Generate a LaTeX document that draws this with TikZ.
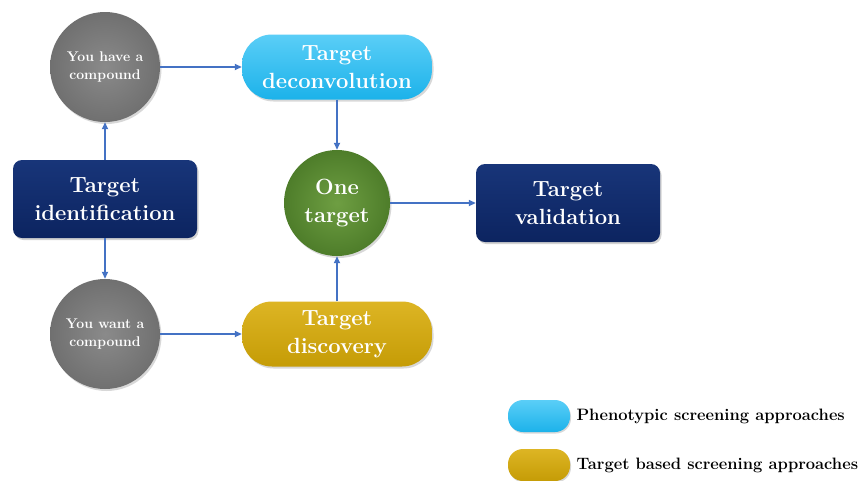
\documentclass[tikz,border=0pt]{standalone}
\usepackage{fontspec}
\usetikzlibrary{shadows,arrows.meta}
\definecolor{arrowblue}{HTML}{4472C4}
\definecolor{navy}{HTML}{0C2460}
\definecolor{navytop}{HTML}{183579}
\definecolor{skyblue}{HTML}{1CB2EA}
\definecolor{skytop}{HTML}{5ACEF7}
\definecolor{gold}{HTML}{C59C06}
\definecolor{goldtop}{HTML}{DDB524}
\definecolor{leaf}{HTML}{4E7D2A}
\definecolor{leaftop}{HTML}{6E9E42}
\definecolor{stone}{HTML}{707070}
\definecolor{stonetop}{HTML}{8A8A8A}
\tikzset{
  x=1pt, y=-1pt,
  every node/.style={font=\bfseries, text=white, align=center},
  ball/.style={circle, minimum size=#1, inner sep=0pt,
    drop shadow={shadow xshift=1.5pt, shadow yshift=-2pt, opacity=0.3}},
  greyball/.style={ball=110pt, inner color=stonetop, outer color=stone,
    font=\bfseries\fontsize{14}{18}\selectfont},
  greenball/.style={ball=106pt, inner color=leaftop, outer color=leaf,
    font=\bfseries\fontsize{22}{28}\selectfont},
  pill/.style={rectangle, rounded corners=30pt, minimum width=190pt, minimum height=65pt,
    font=\bfseries\fontsize{22}{28}\selectfont,
    drop shadow={shadow xshift=1.5pt, shadow yshift=-2pt, opacity=0.3}},
  bluepill/.style={pill, top color=skytop, bottom color=skyblue},
  goldpill/.style={pill, top color=goldtop, bottom color=gold},
  navybox/.style={rectangle, rounded corners=9pt, minimum width=184pt, minimum height=78pt,
    top color=navytop, bottom color=navy, font=\bfseries\fontsize{22}{28}\selectfont,
    drop shadow={shadow xshift=1.5pt, shadow yshift=-2pt, opacity=0.35}},
  keypill/.style={rectangle, rounded corners=15pt, minimum width=62pt, minimum height=32pt,
    drop shadow={shadow xshift=1pt, shadow yshift=-1.5pt, opacity=0.3}},
  keytext/.style={text=black, anchor=west, font=\bfseries\fontsize{16.5}{20}\selectfont},
  flow/.style={draw=arrowblue, line width=1.6pt, -{Triangle[length=7pt,width=6pt]}}
}
\begin{document}
\begin{tikzpicture}
\useasboundingbox (0,0) rectangle (859,480);
\fill[white] (0,0) rectangle (859,480);

% flow nodes
\node[greyball] (have) at (105,67) {You have a\\compound};
\node[greyball] (want) at (105,334) {You want a\\compound};
\node[navybox] (ident) at (105,199) {Target\\identification};
\node[bluepill] (decon) at (337,67) {Target\\deconvolution};
\node[goldpill] (disc) at (337,334) {Target\\discovery};
\node[greenball] (one) at (337,203) {One\\target};
\node[navybox] (valid) at (568,203) {Target\\validation};

% connectors
\draw[flow] (ident.north) -- (have.south);
\draw[flow] (ident.south) -- (want.north);
\draw[flow] (have.east) -- (decon.west);
\draw[flow] (want.east) -- (disc.west);
\draw[flow] (decon.south) -- (one.north);
\draw[flow] (disc.north) -- (one.south);
\draw[flow] (one.east) -- (valid.west);

% key
\node[keypill, top color=skytop, bottom color=skyblue] (keyA) at (539,416) {};
\node[keypill, top color=goldtop, bottom color=gold] (keyB) at (539,465) {};
\node[keytext] (keyAt) at (573,416) {Phenotypic screening approaches};
\node[keytext] (keyBt) at (573,465) {Target based screening approaches};
\end{tikzpicture}
\end{document}
